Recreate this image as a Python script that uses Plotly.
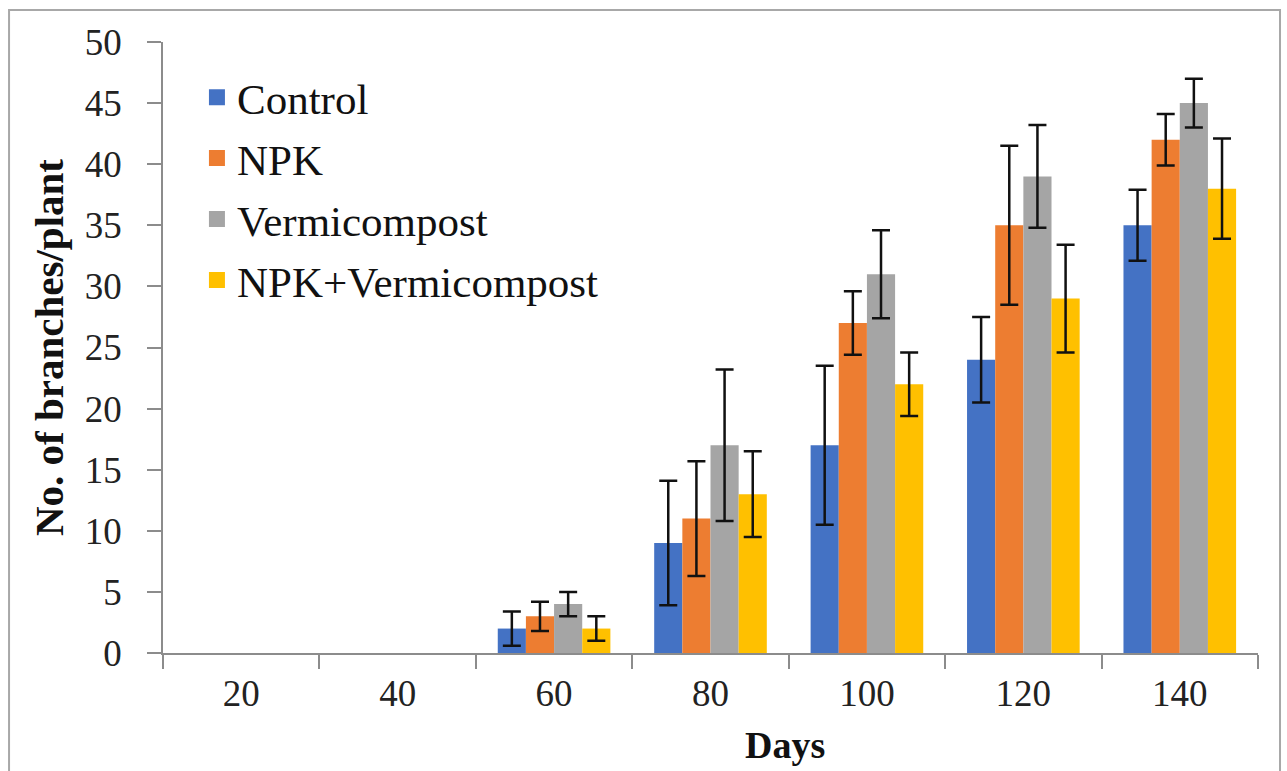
import plotly.graph_objects as go

# Sampling days (categories on the x axis)
days = ["20", "40", "60", "80", "100", "120", "140"]

# Mean number of branches per plant for each treatment
control = [0, 0, 2, 9, 17, 24, 35]
npk = [0, 0, 3, 11, 27, 35, 42]
vermicompost = [0, 0, 4, 17, 31, 39, 45]
npk_vermicompost = [0, 0, 2, 13, 22, 29, 38]

# Error (±) for each treatment
control_err = [0, 0, 1.4, 5.1, 6.5, 3.5, 2.9]
npk_err = [0, 0, 1.2, 4.7, 2.6, 6.5, 2.1]
vermicompost_err = [0, 0, 1.0, 6.2, 3.6, 4.2, 2.0]
npk_vermicompost_err = [0, 0, 1.0, 3.5, 2.6, 4.4, 4.1]

series = [
    ("Control", control, control_err, "#4472C4"),
    ("NPK", npk, npk_err, "#ED7D31"),
    ("Vermicompost", vermicompost, vermicompost_err, "#A5A5A5"),
    ("NPK+Vermicompost", npk_vermicompost, npk_vermicompost_err, "#FFC000"),
]

SERIF = "Liberation Serif, Times New Roman, serif"

fig = go.Figure()
for name, vals, errs, color in series:
    # days without branches get no bar and no error bar
    y = [v if v else None for v in vals]
    fig.add_trace(go.Bar(
        x=days, y=y, name=name, marker=dict(color=color, line=dict(width=0)),
        error_y=dict(type="data", array=errs, visible=True, color="#111111",
                     thickness=2.5, width=9),
        showlegend=False,
    ))

# Legend entries with larger square swatches
for i, (name, vals, errs, color) in enumerate(series):
    fig.add_trace(go.Scatter(
        x=[None], y=[None], mode="markers", name=name, legendgroup=f"g{i}",
        marker=dict(symbol="square", size=16, color=color),
    ))

fig.update_layout(
    width=1287, height=771,
    margin=dict(l=163, r=29, t=42, b=118),
    paper_bgcolor="white", plot_bgcolor="white",
    barmode="group", bargap=0.28, bargroupgap=0,
    font=dict(family=SERIF, color="#222222"),
    legend=dict(
        x=0.031, y=0.966, xanchor="left", yanchor="top",
        font=dict(family=SERIF, size=43, color="#111111"),
        bgcolor="rgba(0,0,0,0)", tracegroupgap=2,
        itemclick=False, itemdoubleclick=False,
    ),
    xaxis=dict(
        type="category", categoryorder="array", categoryarray=days,
        showline=True, linecolor="#8C8C8C", linewidth=1.5,
        ticks="outside", tickson="boundaries", ticklen=14, tickcolor="#8C8C8C",
        tickwidth=1.5, tickfont=dict(size=37, color="#222222"), ticklabelstandoff=7,
        showgrid=False, zeroline=False,
    ),
    yaxis=dict(
        range=[0, 50], dtick=5, showline=True, linecolor="#8C8C8C", linewidth=1.5,
        ticks="outside", ticklen=14, tickcolor="#8C8C8C", tickwidth=1.5,
        tickfont=dict(size=37, color="#222222"), ticklabelstandoff=18,
        showgrid=False, zeroline=False,
        title=dict(text="<b>No. of branches/plant</b>", font=dict(size=41, color="#111111"),
                   standoff=8),
    ),
    annotations=[dict(
        text="<b>Days</b>", xref="paper", yref="paper", x=0.568, y=-0.1506,
        xanchor="center", yanchor="middle", showarrow=False,
        font=dict(family=SERIF, size=38, color="#111111"),
    )],
    shapes=[dict(
        type="rect", xref="paper", yref="paper",
        x0=-0.1406, x1=1.0201, y0=-0.25, y1=1.0524,
        line=dict(color="#A8A8A8", width=2), fillcolor="rgba(0,0,0,0)", layer="below",
    )],
)

fig.write_html("out.html")
